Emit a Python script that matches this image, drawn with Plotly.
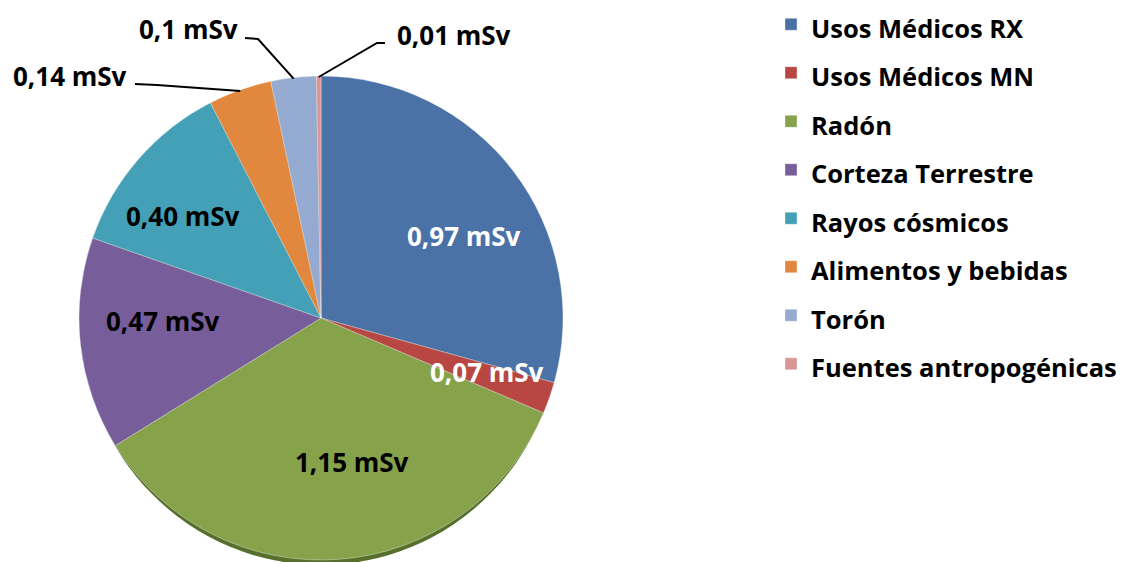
import math
import plotly.graph_objects as go

# Dose contributions (mSv) by source
labels = ["Usos Médicos RX", "Usos Médicos MN", "Radón", "Corteza Terrestre",
          "Rayos cósmicos", "Alimentos y bebidas", "Torón", "Fuentes antropogénicas"]
values = [0.97, 0.07, 1.15, 0.47, 0.40, 0.14, 0.1, 0.01]
decimals = [2, 2, 2, 2, 2, 2, 1, 2]

colors = ["#4a72a6", "#b84744", "#86a34c", "#775e9b", "#43a0b6", "#e1873e", "#94aad0", "#d99694"]
label_colors = ["white", "white", "black", "black", "black", "black", "black", "black"]

W, H = 1127, 562

# label centres in pixels (x, y from top)
label_px = [(464, 236), (487, 372), (352, 462), (163, 321), (183, 216),
            (70, 76), (188, 29), (454, 35)]

# leader lines for the small outer slices: elbow points in pixels;
# the last point is placed on the slice rim
leaders = {
    5: [(135, 84), (157, 85)],
    6: [(245, 38), (258, 39)],
    7: [(385, 43), (377, 43)],
}

cx, cy, r = 321, 318, 242


def px(x, y):
    return x / W, 1 - y / H


# mid angle of each slice (clockwise from 12 o'clock)
total = sum(values)
mid_angles = []
acc = 0.0
for v in values:
    mid = (acc + v / 2) / total
    mid_angles.append(math.radians(90 - 360 * mid))
    acc += v

fig = go.Figure()
fig.add_trace(go.Pie(
    labels=[f'<span style="font-size:25.5px">{l}</span>' for l in labels],
    values=values,
    sort=False,
    direction="clockwise",
    rotation=0,
    textinfo="none",
    hoverinfo="none",
    marker=dict(colors=colors, line=dict(color="rgba(255,255,255,0.35)", width=1)),
    domain=dict(x=[(cx - r) / W, (cx + r) / W], y=[1 - (cy + r) / H, 1 - (cy - r) / H]),
))

annotations = []
for i, (v, d) in enumerate(zip(values, decimals)):
    txt = f"{v:.{d}f}".replace(".", ",") + " mSv"
    x, y = px(*label_px[i])
    annotations.append(dict(
        x=x, y=y, xref="paper", yref="paper", text=txt, showarrow=False,
        xanchor="center", yanchor="middle",
        font=dict(family="Open Sans", size=26, color=label_colors[i], weight="bold"),
    ))

shapes = []
# darker rim under the pie
shapes.append(dict(
    type="circle", xref="paper", yref="paper", layer="below",
    x0=(cx - r + 3) / W, x1=(cx + r - 3) / W,
    y0=1 - (cy + r + 5) / H, y1=1 - (cy - r + 5) / H,
    fillcolor="#56702c", line=dict(width=0),
))
for i, pts in leaders.items():
    a = mid_angles[i]
    rim = (cx + (r - 1) * math.cos(a), cy - (r - 1) * math.sin(a))
    path = ""
    for k, (x, y) in enumerate(pts + [rim]):
        X, Y = px(x, y)
        path += ("M" if k == 0 else " L") + f"{X:.5f},{Y:.5f}"
    shapes.append(dict(type="path", xref="paper", yref="paper", path=path,
                       line=dict(color="black", width=2)))

fig.update_layout(
    width=W, height=H,
    margin=dict(l=0, r=0, t=0, b=0, autoexpand=False),
    paper_bgcolor="white",
    plot_bgcolor="white",
    separators=",.",
    font=dict(family="Open Sans", color="black"),
    showlegend=True,
    legend=dict(
        x=771 / W, y=1 - 194 / H, xanchor="left", yanchor="middle",
        font=dict(family="Open Sans", size=35, color="black", weight="bold"),
        bgcolor="rgba(0,0,0,0)",
        traceorder="normal",
    ),
    annotations=annotations,
    shapes=shapes,
)

fig.write_html("out.html")
